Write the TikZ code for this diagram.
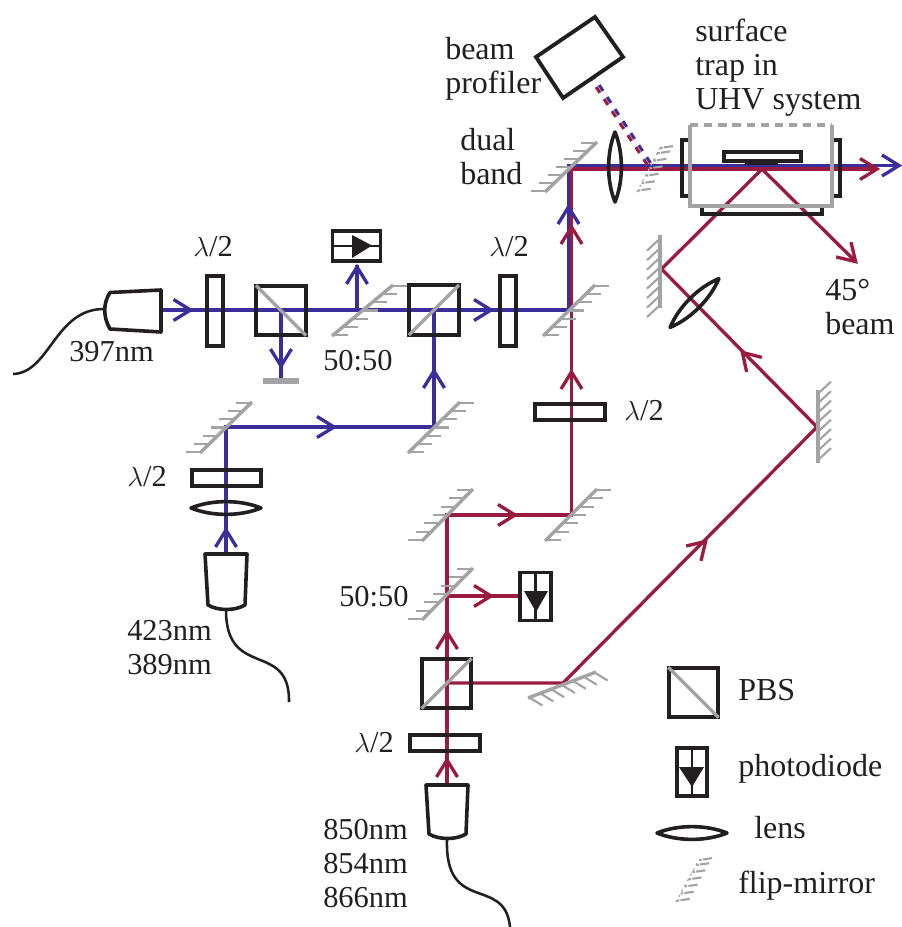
\documentclass[tikz,border=0pt]{standalone}
\usepackage{fontspec}
\setmainfont{Liberation Serif}
\usetikzlibrary{calc}
\definecolor{bblue}{HTML}{3A2E9A}
\definecolor{rred}{HTML}{991B3F}
\definecolor{ggrey}{HTML}{A3A3A5}
\definecolor{kk}{HTML}{231F20}
\tikzset{
 beamb/.style={line width=2.5pt,draw=bblue},
 beamr/.style={line width=2.5pt,draw=rred},
 chevb/.style={beamb,line join=miter},
 chevr/.style={beamr,line join=miter},
 box/.style={draw=kk,line width=2.9pt,line join=miter},
 optic/.style={draw=kk,line width=2.7pt,line join=round},
 fibre/.style={draw=kk,line width=1.9pt},
 gline/.style={draw=ggrey,line width=2.6pt},
 diag/.style={gline,shorten <=1.6pt,shorten >=1.6pt},
 hatchl/.style={draw=ggrey,line width=1.6pt},
 txt/.style={inner sep=0pt,anchor=base west,font=\fontsize{22.8}{25.5}\selectfont,text=kk},
 wtxt/.style={txt,font=\fontsize{24}{25.5}\selectfont},
 mtxt/.style={inner sep=0pt,anchor=north west,align=left,font=\fontsize{22.8}{25.5}\selectfont,text=kk},
 mwtxt/.style={mtxt,font=\fontsize{24}{25.5}\selectfont},
 plate/.style={box,rectangle,inner sep=0pt},
 cube/.style={box,rectangle,inner sep=0pt,minimum size=37pt},
}
\newcommand\chev[3]{%
 \draw[#1,shift={(#2)},rotate=#3] (-19,-10.5) -- (-2,0) -- (-19,10.5);
}
\newcommand\mirr[3]{%
 \draw[gline] (#1) -- (#2);
 \foreach \t in {0.02,0.18,0.34,0.5,0.66,0.82,0.98}
  \draw[hatchl] ($(#1)!\t!(#2)$) -- ++(#3);
}
\newcommand\mirrv[3]{%
 \draw[gline] (#1) -- (#2);
 \foreach \t in {0.05,0.18,0.31,0.44,0.57,0.7,0.83,0.96}
  \draw[hatchl] ($(#1)!\t!(#2)$) -- ++(#3);
}
\newcommand\flipm[3]{%
 \draw[hatchl,line width=1pt,dash pattern=on 1.5pt off 3pt] (#1) -- (#2);
 \foreach \t in {0.03,0.2,0.37,0.54,0.71,0.88,1.0}
  \draw[hatchl,dash pattern=on 2pt off 0.9pt on 7pt off 9pt] ($(#1)!\t!(#2)$) -- ++(#3);
}
\newcommand\lenssh[3]{%
 \draw[optic,rotate around={#2:(#1)}] ($(#1)+(-#3,0)$) .. controls ($(#1)+(-#3*0.4,-8.5)$) and ($(#1)+(#3*0.4,-8.5)$) .. ($(#1)+(#3,0)$) .. controls ($(#1)+(#3*0.4,8.5)$) and ($(#1)+(-#3*0.4,8.5)$) .. cycle;
}
\begin{document}
\begin{tikzpicture}[x=0.75pt,y=-0.75pt]
\useasboundingbox (0,0) rectangle (901,927);
% vertices
\coordinate (colA) at (161,310);
\coordinate (pbsA) at (281,310);
\coordinate (stop) at (281,378);
\coordinate (bs) at (357,310);
\coordinate (bsu) at (357,265);
\coordinate (pbsB) at (434,310);
\coordinate (mC) at (568.5,310);
\coordinate (mD) at (568.5,165.5);
\coordinate (mDr) at (571.5,169);
\coordinate (endb) at (899,165.5);
\coordinate (endr) at (877,169);
\coordinate (mE) at (434,427);
\coordinate (mF) at (226,427);
\coordinate (colB) at (226,554);
\coordinate (colC) at (447,785);
\coordinate (pbsC) at (447,683);
\coordinate (bsR) at (447,596);
\coordinate (pdR) at (519,596);
\coordinate (mG) at (447,515);
\coordinate (mH) at (571.5,515);
\coordinate (mI) at (563,683);
\coordinate (mJ) at (817,427);
\coordinate (mK) at (661.5,269);
\coordinate (apex) at (762,169);
\coordinate (out45) at (855.5,261.5);
\coordinate (flip) at (649,164);
\coordinate (prof) at (593,79);
% blue beams
\draw[beamb] (colA) -- (mC) -- (mD) -- (endb);
\draw[beamb] (pbsA) -- (stop);
\draw[beamb] (bs) -- (bsu);
\draw[beamb] (colB) -- (mF) -- (mE) -- (pbsB);
% red beams
\draw[beamr] (colC) -- (mG) -- (mH) -- (mDr) -- (endr);
\draw[beamr] (bsR) -- (pdR);
\draw[beamr] (pbsC) -- (mI) -- (mJ) -- (mK) -- (apex) -- (out45);
% profiler dotted: blue and red side by side
\draw[line width=2.3pt,bblue,dash pattern=on 5.2pt off 5.6pt] ($(flip)+(1.5,-1)$) -- ($(prof)+(1.5,-1)$);
\draw[line width=2.3pt,rred,dash pattern=on 5.2pt off 5.6pt] ($(flip)+(-1.5,1)$) -- ($(prof)+(-1.5,1)$);
% chevrons
\chev{chevb}{192.5,310}{0}
\chev{chevb}{281,368}{-90}
\chev{chevb}{357,265}{90}
\chev{chevb}{493,310}{0}
\chev{chevb}{434,369}{90}
\chev{chevb}{336,427}{0}
\chev{chevb}{226,528}{90}
\chev{chevb}{568.5,205}{90}
\chev{chevb}{901,165.5}{0}
\chev{chevr}{571.5,225}{90}
\chev{chevr}{571.5,370}{90}
\chev{chevr}{447,758}{90}
\chev{chevr}{447,630}{90}
\chev{chevr}{493,596}{0}
\chev{chevr}{517,515}{0}
\chev{chevr}{879,169}{0}
\chev{chevr}{707,540}{45}
\chev{chevr}{741,351}{134}
\chev{chevr}{857,263}{-45}
% half-wave plates
\node[plate,minimum width=12pt,minimum height=52pt] (wpA) at (215,311) {};
\node[plate,minimum width=12pt,minimum height=52pt] (wpB) at (508,311) {};
\node[plate,minimum width=52pt,minimum height=12pt] (wpC) at (226.5,478) {};
\node[plate,minimum width=52pt,minimum height=12pt] (wpD) at (570,412) {};
\node[plate,minimum width=52pt,minimum height=12pt] (wpE) at (445,743) {};
% cubes
\node[cube] (cA) at (281,310.5) {};
\draw[diag] (cA.north west) -- (cA.south east);
\node[cube] (cB) at (434,310) {};
\draw[diag] (cB.south west) -- (cB.north east);
\node[cube] (cC) at (446.5,683.5) {};
\draw[diag] (cC.south west) -- (cC.north east);
\node[cube] (cL) at (693.5,692.5) {};
\draw[diag] (cL.north west) -- (cL.south east);
% beam stop
\fill[ggrey] (263,378) rectangle (299,384);
% mirrors
\mirr{332,336}{393,285}{15,0}
\mirr{408,453}{460,402}{15,0}
\mirr{252,402}{200,453}{-15,0}
\mirr{543,336}{595,285}{15,0}
\mirr{473,489}{422,541}{-15,0}
\mirr{473,568}{422,620}{-15,0}
\mirr{597,489}{545,541}{15,0}
\mirr{545,192}{597,142}{-15,0}
\mirr{528,698}{596,672}{13,8}
\mirrv{660,235}{660,308}{-13,12}
\mirrv{818,390}{818,463}{13,-12}
% flip mirror
\flipm{637,192}{660,148}{14,-2}
% PD horizontal
\node[box,rectangle,inner sep=0pt,minimum width=36pt,minimum height=23pt] (pdA) at (356.5,246) {};
\draw[box,line width=1.8pt] (pdA.west) -- (pdA.east);
\fill[kk] (352,235) -- (372,245.5) -- (352,258) -- cycle;
% PD vertical
\node[box,rectangle,inner sep=0pt,minimum width=23pt,minimum height=36pt] (pdB) at (535.5,596.5) {};
\draw[box,line width=1.8pt] (pdB.north) -- (pdB.south);
\fill[kk] (524,591) -- (548,591) -- (536,612) -- cycle;
\node[box,rectangle,inner sep=0pt,minimum width=23pt,minimum height=36pt] (pdL) at (692,772) {};
\draw[box,line width=1.8pt] (pdL.north) -- (pdL.south);
\fill[kk] (679,767) -- (704,767) -- (692,787) -- cycle;
% lenses
\lenssh{226,508}{0}{35}
\lenssh{692,833}{0}{35}
\lenssh{615,167}{90}{35}
\lenssh{694.5,303}{45}{34.5}
% fibre launchers
\coordinate (fa) at (105,309);
\coordinate (fb) at (226,610);
\coordinate (fc) at (447,840);
\draw[optic] (161,290) -- (110,292.5) .. controls (103,303) and (103,317) .. (110,329) -- (161,332) -- cycle;
\draw[optic] (205,554) -- (247,554) -- (245,605) .. controls (235,611) and (218,611) .. (208,605) -- cycle;
\draw[optic] (426,785) -- (468,785) -- (466,834) .. controls (456,840) and (439,840) .. (429,834) -- cycle;
\draw[fibre] (fa) .. controls (55,308) and (50,373) .. (13,374);
\draw[fibre] (fb) .. controls (226,680) and (290,640) .. (289,702);
\draw[fibre] (fc) .. controls (445,915) and (505,875) .. (510,927);
% beam profiler
\draw[box] (595,17) -- (623,57) -- (563,98) -- (536,57) -- cycle;
% vacuum chamber
\draw[box] (688,140) -- (682,140) -- (682,196) -- (688,196);
\draw[box] (834,140) -- (840,140) -- (840,196) -- (834,196);
\draw[box] (702,207) -- (702,214) -- (822,214) -- (822,207);
\draw[box] (724,152) rectangle (801,161);
\fill[kk] (745,161) rectangle (778,165.5);
\draw[gline] (690,125) -- (690,206) -- (832,206) -- (832,125);
\draw[gline,dash pattern=on 6.2pt off 4.4pt] (690,125) -- (832,125);
% labels
\node[mwtxt] (lprof) at (445,37) {beam\\profiler};
\node[mwtxt] (lsurf) at (695,19) {surface\\trap in\\UHV system};
\node[mwtxt] (ldual) at (460,128) {dual\\band};
\node[txt] (lwA) at (193,257) {$\lambda$/2};
\node[txt] (lwB) at (489,257) {$\lambda$/2};
\node[txt] (lwC) at (127,486) {$\lambda$/2};
\node[txt] (lwD) at (624,420) {$\lambda$/2};
\node[txt] (lwE) at (354,752) {$\lambda$/2};
\node[txt] (l397) at (69,361) {397nm};
\node[txt] (l50a) at (323,370) {50:50};
\node[mtxt] (l423) at (127,620) {423nm\\389nm};
\node[txt] (l50b) at (339,606) {50:50};
\node[mtxt] (l850) at (323,819) {850nm\\854nm\\866nm};
\node[mwtxt] (l45) at (825,279) {45°\\beam};
\node[wtxt] (lpbs) at (738,700) {PBS};
\node[wtxt] (lpd) at (738,776) {photodiode};
\node[wtxt] (llens) at (754,838) {lens};
\node[wtxt] (lflip) at (738,893) {flip-mirror};
\flipm{676,902}{699,860}{14,-2}
\end{tikzpicture}
\end{document}
